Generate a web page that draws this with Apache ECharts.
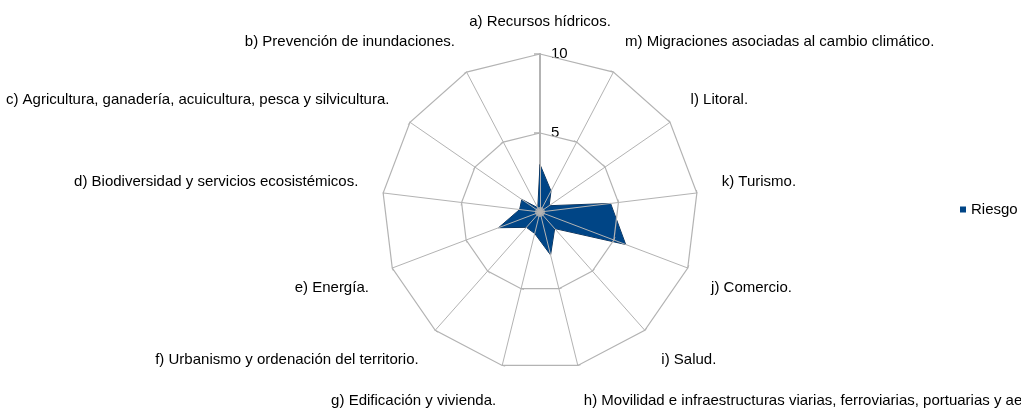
<!DOCTYPE html>
<html>
<head>
<meta charset="utf-8">
<script src="https://cdn.jsdelivr.net/npm/echarts@6/dist/echarts.min.js"></script>
<style>
  html, body { margin: 0; padding: 0; background: #fff; }
  #chart { width: 1021px; height: 414px; }
</style>
</head>
<body>
<div id="chart"></div>
<script>
  // ámbitos (en el orden del gráfico, contrario a las agujas del reloj desde arriba)
  const ambitos = [
    'a) Recursos hídricos.',
    'b) Prevención de inundaciones.',
    'c) Agricultura, ganadería, acuicultura, pesca y silvicultura.',
    'd) Biodiversidad y servicios ecosistémicos.',
    'e) Energía.',
    'f) Urbanismo y ordenación del territorio.',
    'g) Edificación y vivienda.',
    'h) Movilidad e infraestructuras viarias, ferroviarias, portuarias y aeroportuarias.',
    'i) Salud.',
    'j) Comercio.',
    'k) Turismo.',
    'l) Litoral.',
    'm) Migraciones asociadas al cambio climático.'
  ]
  const riesgo = [3, 0.3, 1.4, 1.3, 2.8, 1.3, 1.4, 2.8, 1.4, 5.8, 4.5, 0.7, 1.5]
  const escalaMax = 10
  const escalaPaso = 5
  const centro = [[0, 0]]

  const gris = '#b3b3b3'
  const fuente = 'Liberation Sans'
  const pos = ['540', '212']
  const radio = 158

  // las etiquetas de arriba se apoyan por su borde inferior, las de abajo por el superior
  const lado = (i) => {
    let ang = 90 + i * 360 / ambitos.length
    let s = Math.sin(ang * Math.PI / 180)
    if (i === 0) return 'mid'
    return s > 0 ? 'up' : 'down'
  }

  let chart = echarts.init(document.getElementById('chart'))
  let option = {
    backgroundColor: '#fff',
    animation: false,
    textStyle: { fontFamily: fuente },
    legend: {
      data: ['Riesgo'],
      left: 955,
      top: 197,
      icon: 'rect',
      itemWidth: 6,
      itemHeight: 6,
      textStyle: { color: '#000', fontSize: 15, fontFamily: fuente }
    },
    radar: {
      center: pos,
      radius: radio,
      startAngle: 90,
      z: 3,
      splitNumber: 2,
      shape: 'polygon',
      indicator: ambitos.map(n => ({ name: n, min: 0, max: escalaMax })),
      axisName: {
        color: '#000',
        fontSize: 15,
        fontFamily: fuente,
        formatter: function (value) {
          let i = ambitos.indexOf(value)
          return '{' + lado(i) + '|' + value + '}'
        },
        rich: {
          up: { color: '#000', fontSize: 15, fontFamily: fuente, padding: [0, 0, 16, 0] },
          down: { color: '#000', fontSize: 15, fontFamily: fuente, padding: [22, 0, 0, 0] },
          mid: { color: '#000', fontSize: 15, fontFamily: fuente }
        }
      },
      nameGap: 25,
      axisLine: { lineStyle: { color: gris, width: 1 } },
      axisTick: { show: true, length: 3, lineStyle: { color: gris } },
      splitLine: { lineStyle: { color: gris, width: 1.2 } },
      splitArea: { show: false }
    },
    polar: { center: pos, radius: radio, z: 4 },
    angleAxis: {
      type: 'value', min: 0, max: 360, startAngle: 90, show: false
    },
    radiusAxis: {
      type: 'value',
      min: 0,
      max: escalaMax,
      interval: escalaPaso,
      axisLine: { lineStyle: { color: gris, width: 2 } },
      axisTick: { show: true, length: 6, lineStyle: { color: gris, width: 1.5 } },
      splitLine: { show: false },
      axisLabel: { color: '#000', fontSize: 15, fontFamily: fuente, margin: -11, align: 'left' }
    },
    series: [
      {
        type: 'radar',
        z: 1,
        symbol: 'none',
        lineStyle: { color: '#142c48', width: 1 },
        areaStyle: { color: '#004586', opacity: 1 },
        itemStyle: { color: '#004586', borderColor: '#142c48' },
        data: [{ name: 'Riesgo', value: riesgo }]
      },
      {
        type: 'scatter',
        coordinateSystem: 'polar',
        z: 5,
        symbolSize: 10,
        itemStyle: { color: gris },
        silent: true,
        data: centro
      }
    ]
  }
  chart.setOption(option)
  window.addEventListener('resize', function () {
    chart.resize()
  })
</script>
</body>
</html>
